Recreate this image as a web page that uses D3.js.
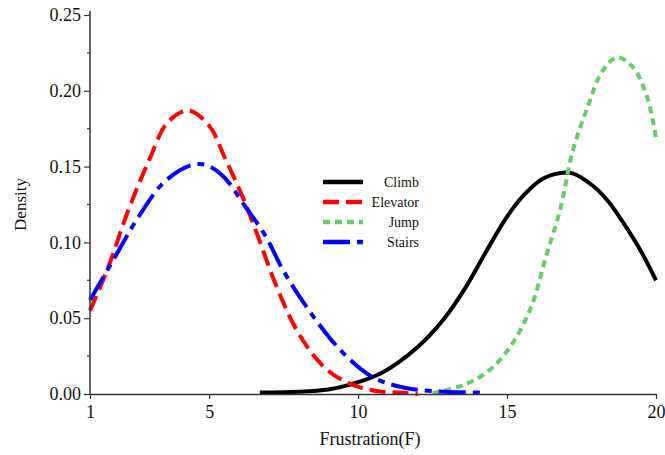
<!DOCTYPE html>
<html>
<head>
<meta charset="utf-8">
<script src="https://cdn.jsdelivr.net/npm/d3@7"></script>
<style>
  html, body { margin: 0; padding: 0; background: #fff; }
  svg { display: block; }
  text { font-family: "Liberation Serif", "Times New Roman", serif; fill: #111; }
</style>
</head>
<body>
<svg id="chart" width="665" height="455"></svg>
<script>
// Kernel density curves of frustration scores for four movement modes
const seriesNames = ["Climb", "Elevator", "Jump", "Stairs"];

const climbX = [6.7, 8.0, 9.0, 9.7, 10.8, 12.0, 12.9, 13.6, 14.3, 15.0, 15.6, 16.2, 16.8, 17.2, 17.9, 18.4, 18.9, 19.5, 20];
const climbY = [0.001, 0.0015, 0.003, 0.006, 0.014, 0.031, 0.050, 0.070, 0.094, 0.117, 0.132, 0.142, 0.1458, 0.1455, 0.137, 0.127, 0.113, 0.094, 0.075];

const elevatorX = [1, 1.6, 2.3, 3.0, 3.6, 4.3, 5.0, 5.5, 6.1, 6.6, 7.2, 8.0, 8.9, 9.7, 10.6, 11.4, 12.0];
const elevatorY = [0.055, 0.083, 0.122, 0.155, 0.179, 0.187, 0.177, 0.157, 0.131, 0.106, 0.074, 0.040, 0.017, 0.007, 0.002, 0.001, 0.0];

const jumpX = [12.5, 13.4, 14.3, 15.1, 15.8, 16.3, 16.8, 17.2, 17.7, 18.2, 18.7, 19.25, 19.7, 20];
const jumpY = [0.0005, 0.005, 0.014, 0.031, 0.057, 0.090, 0.123, 0.160, 0.189, 0.213, 0.222, 0.215, 0.196, 0.169];

const stairsX = [1, 1.8, 2.6, 3.5, 4.4, 4.9, 5.5, 6.2, 6.9, 7.5, 8.5, 9.5, 10.5, 11.6, 12.9, 14.3];
const stairsY = [0.062, 0.089, 0.116, 0.140, 0.151, 0.151, 0.143, 0.124, 0.104, 0.081, 0.051, 0.027, 0.011, 0.004, 0.0015, 0.001];

const xTicks = [1, 5, 10, 15, 20];
const yTicks = [0, 0.05, 0.10, 0.15, 0.20, 0.25];
const yMinorTicks = [0.025, 0.075, 0.125, 0.175, 0.225];

const series = [
  { name: "Climb",    xs: climbX,    ys: climbY,    color: "#000000", dash: null },
  { name: "Elevator", xs: elevatorX, ys: elevatorY, color: "#ff0000", dash: "16,7" },
  { name: "Jump",     xs: jumpX,     ys: jumpY,     color: "#66cc66", dash: "7,5" },
  { name: "Stairs",   xs: stairsX,   ys: stairsY,   color: "#0000ff", dash: "27,7,7,7" }
];

const svg = d3.select("#chart");
const x = d3.scaleLinear().domain([1, 20]).range([90, 656]);
const y = d3.scaleLinear().domain([0, 0.25]).range([394, 15]);

// curves
const line = d3.line()
  .x(d => x(d[0]))
  .y(d => y(d[1]))
  .curve(d3.curveCatmullRom.alpha(0.5));

const plot = svg.append("g");
series.forEach(s => {
  const pts = s.xs.map((v, i) => [v, s.ys[i]]);
  plot.append("path")
    .attr("d", line(pts))
    .attr("fill", "none")
    .attr("stroke", s.color)
    .attr("stroke-width", 4)
    .attr("stroke-dasharray", s.dash)
    .attr("stroke-linejoin", "round");
});

// x axis
const xAxis = svg.append("g")
  .attr("transform", `translate(0,${y(0)})`)
  .call(d3.axisBottom(x).tickValues(xTicks).tickFormat(d3.format("d")).tickSize(5).tickSizeOuter(0).tickPadding(6));
xAxis.select(".domain").attr("stroke", "#333").attr("stroke-width", 1.5);
xAxis.selectAll(".tick line").attr("stroke", "#333").attr("stroke-width", 1.2);
xAxis.selectAll(".tick text").attr("font-size", 18).attr("font-family", "Liberation Serif").attr("fill", "#111");

// y axis
const yAxis = svg.append("g")
  .attr("transform", `translate(${x(1)},0)`)
  .call(d3.axisLeft(y).tickValues(yTicks).tickFormat(d3.format(".2f")).tickSize(6).tickSizeOuter(0).tickPadding(3));
yAxis.select(".domain").remove();
yAxis.selectAll(".tick line").attr("stroke", "#333").attr("stroke-width", 1.2);
yAxis.selectAll(".tick text").attr("font-size", 18).attr("font-family", "Liberation Serif").attr("fill", "#111");
yAxis.selectAll(".minor").data(yMinorTicks).enter().append("line")
  .attr("class", "minor")
  .attr("x1", -3).attr("x2", 0)
  .attr("y1", d => y(d)).attr("y2", d => y(d))
  .attr("stroke", "#333").attr("stroke-width", 1.2);
yAxis.append("line")
  .attr("x1", 0).attr("x2", 0)
  .attr("y1", y(0) + 0.75).attr("y2", y(0.25) - 4)
  .attr("stroke", "#333").attr("stroke-width", 1.5);

// axis titles
svg.append("text")
  .attr("x", x(10.4)).attr("y", 445)
  .attr("text-anchor", "middle")
  .attr("font-size", 18)
  .text("Frustration(F)");
svg.append("text")
  .attr("transform", `translate(26,${y(0.125)}) rotate(-90)`)
  .attr("text-anchor", "middle")
  .attr("font-size", 17)
  .text("Density");

// legend
const legend = svg.append("g");
series.forEach((s, i) => {
  const ly = 182 + i * 20;
  legend.append("line")
    .attr("x1", 323).attr("x2", 363)
    .attr("y1", ly).attr("y2", ly)
    .attr("stroke", s.color)
    .attr("stroke-width", 4.5)
    .attr("stroke-dasharray", s.dash);
  legend.append("text")
    .attr("x", 419).attr("y", ly + 5)
    .attr("text-anchor", "end")
    .attr("font-size", 14)
    .text(s.name);
});
</script>
</body>
</html>
